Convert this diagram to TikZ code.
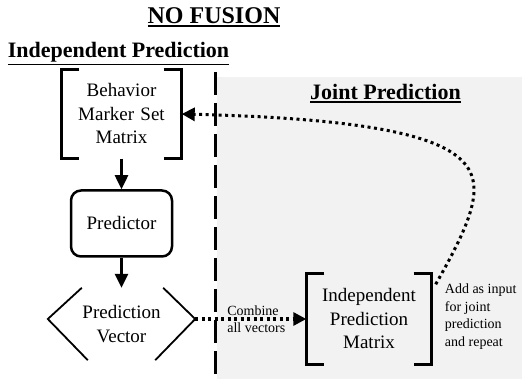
\documentclass[tikz,border=0pt]{standalone}
\usepackage{fontspec}
\setmainfont{Liberation Serif}
\newcommand{\ulhead}[1]{\leavevmode\vtop{\hbox{#1}\kern1pt\hrule height 1.6pt}}
\definecolor{jointgray}{RGB}{242,242,242}
\usetikzlibrary{shapes,arrows.meta,positioning}
\tikzstyle{heading} = [font=\bfseries\fontsize{22}{26}\selectfont, inner sep=0pt, anchor=base]
\tikzstyle{bracketbox} = [rectangle, align=center, text width=118pt, minimum width=120pt,
    minimum height=89pt, inner sep=0pt, font=\fontsize{19}{23.5}\selectfont]
\tikzstyle{block} = [rectangle, draw, rounded corners=10pt, line width=2.5pt,
    minimum width=101pt, minimum height=66pt, font=\fontsize{19}{23.5}\selectfont]
\tikzstyle{vector} = [rectangle, align=center, minimum width=147pt, minimum height=72pt,
    inner sep=0pt, font=\fontsize{19}{23.5}\selectfont]
\tikzstyle{note} = [align=left, inner sep=0pt, font=\fontsize{14}{17.5}\selectfont]
\tikzstyle{bracket} = [draw, line width=3pt]
\tikzstyle{chevron} = [draw, line width=1.8pt]
\tikzstyle{divider} = [draw, line width=3pt, dash pattern=on 23pt off 8pt]
\tikzstyle{line} = [draw, line width=2.5pt, -{Triangle[length=14pt,width=13pt]}]
\tikzstyle{dotline} = [draw, line width=3pt, dash pattern=on 3pt off 3.5pt,
    -{Triangle[length=13pt,width=13pt]}]
\begin{document}
\begin{tikzpicture}[x=1pt, y=-1pt, node distance=109.5pt]
  \useasboundingbox (0,0) rectangle (522,379);
  \fill [jointgray] (217,77) rectangle (522,379);
  \node [heading, font=\bfseries\fontsize{24}{28}\selectfont] (no_fusion) at (214,24) {\ulhead{NO FUSION}};
  \node [heading] (indep_title) at (118.5,58) {\ulhead{Independent Prediction}};
  \node [heading] (joint_title) at (385.5,100) {\ulhead{Joint Prediction}};
  \draw [divider] (215,72) -- (215,379);
  \node [bracketbox] (marker_matrix) at (121.5,114) {Behavior\\Marker Set\\Matrix};
  \draw [bracket] ([xshift=18pt]marker_matrix.north west) -| (marker_matrix.south west) -- ++(18,0);
  \draw [bracket] ([xshift=-18pt]marker_matrix.north east) -| (marker_matrix.south east) -- ++(-18,0);
  \node [block, below of=marker_matrix] (predictor) {Predictor};
  \path [line] (marker_matrix) -- (predictor);
  \node [vector, below of=predictor, node distance=100.5pt] (pred_vector) {Prediction\\Vector};
  \draw [chevron] ([xshift=34pt]pred_vector.north west) -- ([yshift=5pt]pred_vector.west) -- ([xshift=40pt]pred_vector.south west);
  \draw [chevron] ([xshift=-32pt]pred_vector.north east) -- ([yshift=5pt]pred_vector.east) -- ([xshift=-40pt]pred_vector.south east);
  \path [line] (predictor) -- (pred_vector);
  \node [bracketbox, text width=123pt, minimum width=125pt, minimum height=91pt,
    right of=pred_vector, node distance=247.5pt, yshift=5pt] (pred_matrix) {Independent\\Prediction\\Matrix};
  \draw [bracket] ([xshift=18pt]pred_matrix.north west) -| (pred_matrix.south west) -- ++(18,0);
  \draw [bracket] ([xshift=-18pt]pred_matrix.north east) -| (pred_matrix.south east) -- ++(-18,0);
  \path [dotline] ([yshift=5pt]pred_vector.east) -- node[note, pos=0.55] {Combine\\all vectors} (pred_matrix);
  \node [note, right=13pt of pred_matrix, yshift=2.5pt] (repeat_note) {Add as input\\for joint\\prediction\\and repeat};
  \coordinate (loop_start) at ([shift={(4,11)}]pred_matrix.north east);
  \path [dotline] (loop_start) .. controls (455,250) and (474,215) .. (474,190)
    .. controls (474,150) and (430,120) .. (marker_matrix.east);
\end{tikzpicture}
\end{document}
